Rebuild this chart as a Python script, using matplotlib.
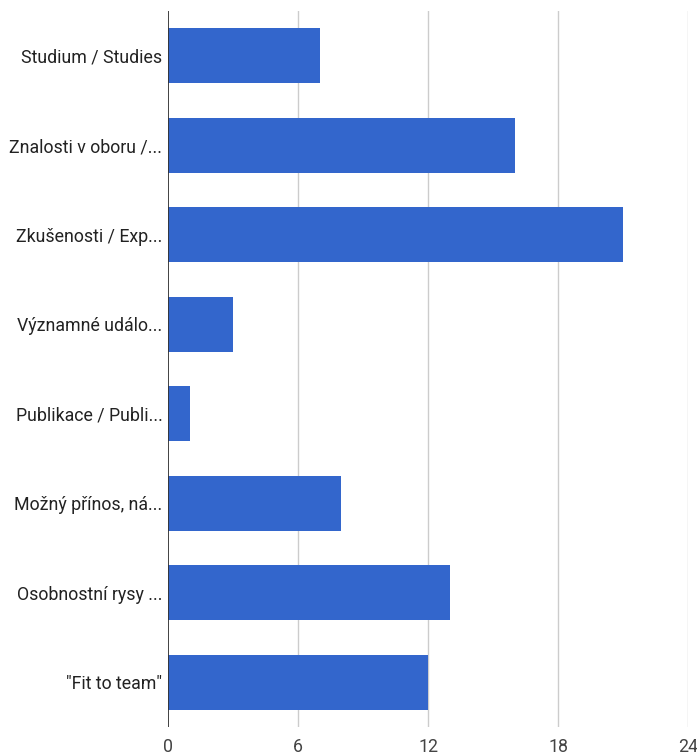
import matplotlib
matplotlib.use("Agg")
import matplotlib.pyplot as plt

categories = [
    "Studium / Studies",
    "Znalosti v oboru /...",
    "Zkušenosti / Exp...",
    "Významné událo...",
    "Publikace / Publi...",
    "Možný přínos, ná...",
    "Osobnostní rysy ...",
    "\"Fit to team\"",
]
values = [7, 16, 21, 3, 1, 8, 13, 12]
x_ticks = [0, 6, 12, 18, 24]

plt.rcParams["font.family"] = ["Roboto", "DejaVu Sans"]

W, H = 697, 756
fig = plt.figure(figsize=(W / 100, H / 100), dpi=100)
ax = fig.add_axes([168 / W, (H - 727) / H, (688 - 168) / W, (727 - 11) / H])

y = list(range(len(categories)))
ax.barh(y, values, height=0.61, color="#3366cc", zorder=3)

ax.set_ylim(len(categories) - 0.5, -0.5)
ax.set_xlim(0, 24)
ax.set_xticks(x_ticks)
ax.set_xticklabels([str(t) for t in x_ticks], fontsize=12.8, color="#444444")
ax.set_yticks(y)
ax.set_yticklabels(categories, fontsize=12.8, color="#222222")
ax.tick_params(axis="both", length=0)
ax.tick_params(axis="x", pad=8)
ax.tick_params(axis="y", pad=4)

for t in x_ticks[1:]:
    ax.axvline(t, color="#cccccc", linewidth=1, zorder=1)
ax.axvline(0, color="#333333", linewidth=1.3, zorder=4)

for s in ax.spines.values():
    s.set_visible(False)

fig.savefig("out.png", dpi=100)
